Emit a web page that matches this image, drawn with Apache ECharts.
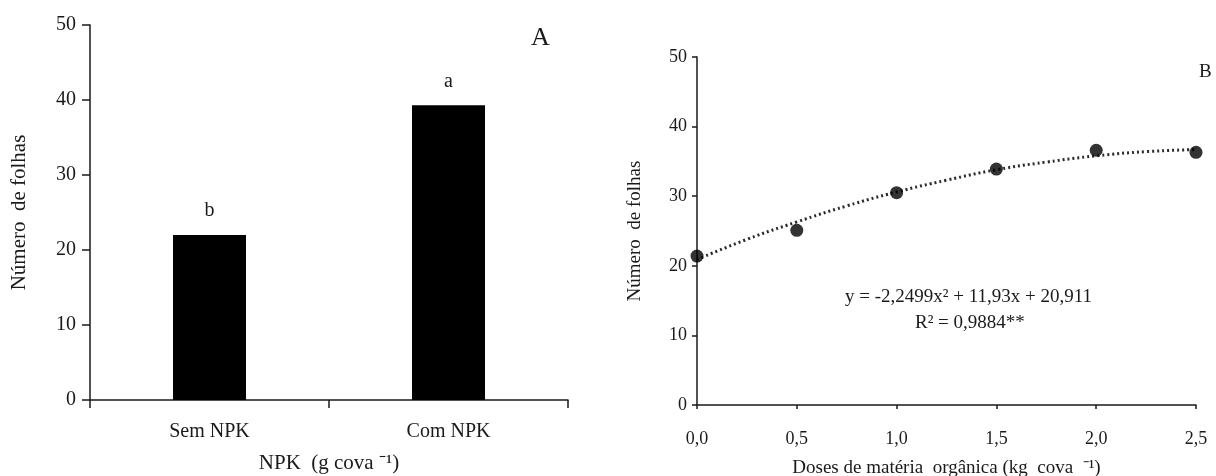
<!DOCTYPE html>
<html>
<head>
<meta charset="utf-8">
<script src="https://cdn.jsdelivr.net/npm/echarts@6/dist/echarts.min.js"></script>
<style>
  html, body { margin: 0; padding: 0; background: #fff; }
  #chart { width: 1216px; height: 476px; }
</style>
</head>
<body>
<div id="chart"></div>
<script>
// painel A
const npkCats = ["Sem NPK", "Com NPK"];
const npkValues = [22.0, 39.3];
const npkLetters = ["b", "a"];

// painel B
const doses = [0, 0.5, 1.0, 1.5, 2.0, 2.5];
const folhas = [21.4, 25.1, 30.5, 33.9, 36.6, 36.3];
// curva ajustada
const trendX = [0, 0.25, 0.5, 0.75, 1.0, 1.25, 1.5, 1.75, 2.0, 2.25, 2.5];
const trendY = [20.9, 23.8, 26.3, 28.6, 30.6, 32.3, 33.8, 34.9, 35.8, 36.4, 36.7];
const yTicks = [0, 10, 20, 30, 40, 50];

const serif = "Liberation Serif";
const ink = "#1a1a1a";

const chart = echarts.init(document.getElementById("chart"));

const axisLine = { show: true, lineStyle: { color: ink, width: 1.5 } };

chart.setOption({
  animation: false,
  backgroundColor: "#fff",
  textStyle: { fontFamily: serif, color: ink },
  title: [
    { text: "A", left: 526, top: 20, textStyle: { fontFamily: serif, fontSize: 26, fontWeight: "normal", color: ink } },
    { text: "B", left: 1194, top: 58, textStyle: { fontFamily: serif, fontSize: 19, fontWeight: "normal", color: ink } }
  ],
  grid: [
    { left: 90, top: 25, width: 478, height: 375, outerBoundsMode: "none" },
    { left: 697, top: 57, width: 499, height: 348, outerBoundsMode: "none" }
  ],
  xAxis: [
    {
      gridIndex: 0, type: "category", data: npkCats,
      axisLine, axisTick: { show: true, length: 8, lineStyle: { color: ink, width: 1.5 } },
      axisLabel: { fontFamily: serif, fontSize: 20, color: ink, margin: 22 },
      name: "NPK  (g cova ⁻¹)", nameLocation: "middle", nameGap: 53,
      nameTextStyle: { fontFamily: serif, fontSize: 21, color: ink }
    },
    {
      gridIndex: 1, type: "value", min: 0, max: 2.5, interval: 0.5,
      axisLine, axisTick: { show: true, length: 4, lineStyle: { color: ink, width: 1.5 } },
      splitLine: { show: false },
      axisLabel: { fontFamily: serif, fontSize: 18, color: ink, margin: 25,
        formatter: v => v.toFixed(1).replace(".", ",") },
      name: "Doses de matéria  orgânica (kg  cova  ⁻¹)", nameLocation: "middle", nameGap: 54,
      nameTextStyle: { fontFamily: serif, fontSize: 19, color: ink }
    }
  ],
  yAxis: [
    {
      gridIndex: 0, type: "value", min: yTicks[0], max: yTicks[yTicks.length - 1], interval: 10,
      axisLine, axisTick: { show: true, length: 8, lineStyle: { color: ink, width: 1.5 } },
      splitLine: { show: false },
      axisLabel: { fontFamily: serif, fontSize: 20, color: ink, margin: 14 },
      name: "Número  de folhas", nameLocation: "middle", nameGap: 60,
      nameTextStyle: { fontFamily: serif, fontSize: 21, color: ink }
    },
    {
      gridIndex: 1, type: "value", min: yTicks[0], max: yTicks[yTicks.length - 1], interval: 10,
      axisLine, axisTick: { show: true, length: 5, lineStyle: { color: ink, width: 1.5 } },
      splitLine: { show: false },
      axisLabel: { fontFamily: serif, fontSize: 18, color: ink, margin: 10 },
      name: "Número  de folhas", nameLocation: "middle", nameGap: 52,
      nameTextStyle: { fontFamily: serif, fontSize: 19, color: ink }
    }
  ],
  series: [
    {
      type: "bar", xAxisIndex: 0, yAxisIndex: 0,
      data: npkValues, barWidth: 73,
      itemStyle: { color: "#000" },
      label: {
        show: true, position: "top", distance: 14,
        fontFamily: serif, fontSize: 20, color: ink,
        formatter: p => npkLetters[p.dataIndex]
      }
    },
    {
      type: "line", xAxisIndex: 1, yAxisIndex: 1,
      data: trendX.map((x, i) => [x, trendY[i]]),
      smooth: true, showSymbol: false,
      lineStyle: { color: "#2a2a2a", width: 3, type: [2, 3] },
      z: 2
    },
    {
      type: "scatter", xAxisIndex: 1, yAxisIndex: 1,
      data: doses.map((x, i) => [x, folhas[i]]),
      symbolSize: 13, itemStyle: { color: "#000" }, z: 3
    }
  ],
  graphic: [
    {
      type: "text", left: 845, top: 288,
      style: { text: "y = -2,2499x² + 11,93x + 20,911", fontFamily: serif, fontSize: 19, fill: ink }
    },
    {
      type: "text", left: 915, top: 314,
      style: { text: "R² = 0,9884**", fontFamily: serif, fontSize: 19, fill: ink }
    }
  ]
});
</script>
</body>
</html>
